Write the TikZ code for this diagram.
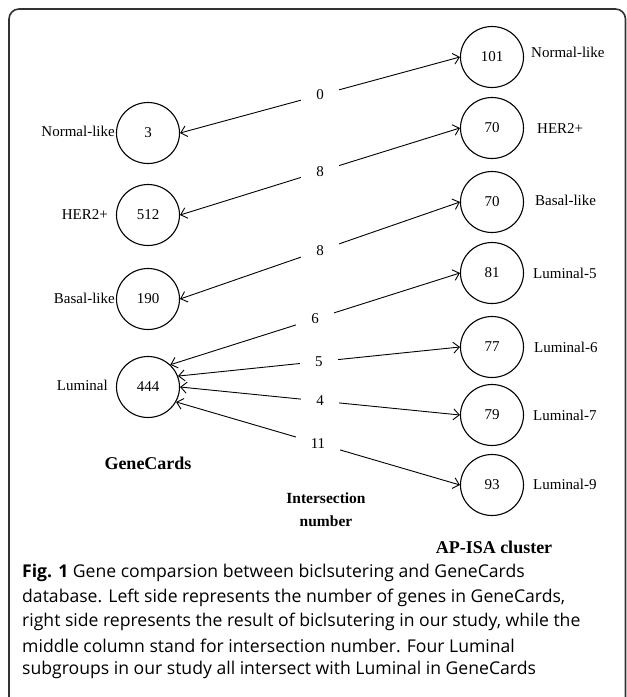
\documentclass[tikz,border=0pt]{standalone}
\usepackage{fontspec}
\setmainfont{Liberation Serif}
\newfontfamily\capfont{Open Sans}
\usetikzlibrary{arrows.meta,shapes.geometric}
\begin{document}
\begin{tikzpicture}[x=1pt,y=-1pt,
  bub/.style={draw, ellipse, line width=1.1pt, minimum width=63pt, minimum height=61pt, inner sep=0pt, font=\fontsize{15}{17}\selectfont},
  sidelab/.style={inner sep=0pt, font=\fontsize{15}{17}\selectfont},
  conn/.style={line width=0.9pt, {Straight Barb[length=6pt,width=11pt]}-{Straight Barb[length=6pt,width=11pt]}},
  numlab/.style={fill=white, inner xsep=15pt, inner ysep=3pt, font=\fontsize{15}{17}\selectfont},
  headlab/.style={font=\bfseries\fontsize{18}{20}\selectfont, inner sep=0pt},
  midhead/.style={font=\bfseries\fontsize{15.5}{23}\selectfont, inner sep=0pt, align=center},
  caplab/.style={font=\capfont\fontsize{17.6}{20}\selectfont, inner sep=0pt, anchor=west}]
\useasboundingbox (0,0) rectangle (627,697);
\begin{scope}
\clip (0,0) rectangle (627,697);
\draw[line width=1.6pt, draw=black!80, rounded corners=10pt] (9,720) -- (9,9) -- (625.5,9) -- (625.5,720);
\end{scope}
% left column
\node[bub] (l1) at (148,133) {3};
\node[bub] (l2) at (148,215) {512};
\node[bub] (l3) at (148,299) {190};
\node[bub] (l4) at (148,387) {444};
\node[sidelab, anchor=east] (tl1) at (115,131) {Normal-like};
\node[sidelab, anchor=east] (tl2) at (108,215) {HER2+};
\node[sidelab, anchor=east] (tl3) at (115,298) {Basal-like};
\node[sidelab, anchor=east] (tl4) at (108,385) {Luminal};
% right column
\node[bub] (r1) at (492,57) {101};
\node[bub] (r2) at (492,128) {70};
\node[bub] (r3) at (492,202) {70};
\node[bub] (r4) at (492,273) {81};
\node[bub] (r5) at (492,347) {77};
\node[bub] (r6) at (492,415) {79};
\node[bub] (r7) at (492,485) {93};
\node[sidelab, anchor=west] (tr1) at (531,52) {Normal-like};
\node[sidelab, anchor=west] (tr2) at (537,129) {HER2+};
\node[sidelab, anchor=west] (tr3) at (535,200) {Basal-like};
\node[sidelab, anchor=west] (tr4) at (533,273) {Luminal-5};
\node[sidelab, anchor=west] (tr5) at (534,347) {Luminal-6};
\node[sidelab, anchor=west] (tr6) at (533,415) {Luminal-7};
\node[sidelab, anchor=west] (tr7) at (533,484) {Luminal-9};
% connectors
\draw[conn] (l1.east) -- node[numlab] (n1) {0} (r1.west);
\draw[conn] (l2.east) -- node[numlab] (n2) {8} (r2.west);
\draw[conn] (l3.east) -- node[numlab] (n3) {8} (r3.west);
\draw[conn] (l4.45) -- node[numlab] (n4) {6} (r4.west);
\draw[conn] (l4.20) -- node[numlab] (n5) {5} (r5.west);
\draw[conn] (l4.0) -- node[numlab] (n6) {4} (r6.west);
\draw[conn] (l4.-28) -- node[numlab] (n7) {11} (r7.west);
% headings
\node[headlab] (hg) at (148,463) {GeneCards};
\node[midhead] (hi) at (326,510) {Intersection\\number};
\node[headlab] (ha) at (494,547) {AP-ISA cluster};
% caption
\node[caplab] (c1) at (22,573) {\textbf{Fig. 1} Gene comparsion between biclsutering and GeneCards};
\node[caplab] (c2) at (22,598) {database. Left side represents the number of genes in GeneCards,};
\node[caplab] (c3) at (22,622) {right side represents the result of biclsutering in our study, while the};
\node[caplab] (c4) at (22,646) {middle column stand for intersection number. Four Luminal};
\node[caplab] (c5) at (22,670) {subgroups in our study all intersect with Luminal in GeneCards};
\end{tikzpicture}
\end{document}
